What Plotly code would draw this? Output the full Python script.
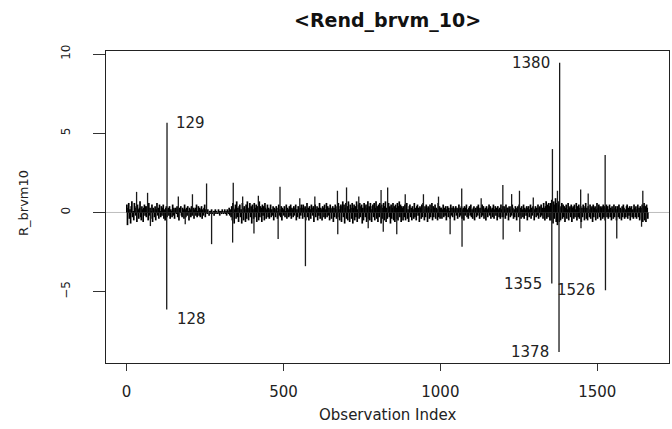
import plotly.graph_objects as go

# ---------------- data ----------------
# background returns, one value every 2nd observation, by region
seg_A = [.5,-.8,.3,.6,-.4,.2,-.7,.4,.7,-.3,.1,-.5,.6,.3,-.2,.4,-.6,.5,.2,-.4,.3,.7,-.3,-.5,.4,.2,-.6,.3,.5,-.2,.4]
seg_B = [-.3,.4,.2,-.5,.6,-.2,.3,-.4,.1,.5,-.6,.3,.2,-.3,.4,-.5,.2,.6,-.2,.3,
         -.4,.5,.1,-.3,.4,-.2,.3,.5,-.4,.2,-.5,.3,.4,-.3,.2]
seg_C = [.3,-.2,.4,-.4,.2,.1,-.3,.5,-.2,.3, -.4,.2,.3,-.1,.4,-.3,.2,-.5,.3,.1,
         .4,-.2,-.3,.3,.2,-.4,.5,.2,-.3,.3, -.2,.4,.1,-.5,.3,.2,-.3,.4,-.2,.2,
         .3,-.4,.2,.3,-.2,.5,-.3,.1,.4,-.2, .3,-.3,.2,.4,-.4,.2,-.2,.3,.5,-.3, .2]
seg_D = [.1,-.1,.2,0,-.2,.1,.1,-.1,.2,-.1, 0,.1,-.2,.1,.2,-.1,.1,0,-.1,.2,
         .1,-.2,.1,.1,-.1,.2,0,-.1,.1,.2, -.1,.1,-.2,.2,.1,-.1,.3,-.2,.2,-.3]
seg_E = [.4,-.5,.6,.3,-.7,.2,.5,-.4,.7,-.3, .3,-.6,.4,.5,-.3,.2,-.7,.6,.3,-.5,
         .4,.2,-.6,.5,-.4,.7,.3,-.5,.2,.6, -.3,.4,-.7,.5,.2,-.4,.6,-.3,.3,.5,
         -.6,.4,.2,-.5,.7,-.3,.4,.3,-.6,.5, -.2,.4,-.5,.6,.3,-.4,.2,.5,-.3]
seg_F = [.3,-.4,.2,.5,-.3,.2,-.2,.4,-.5,.3, .2,-.3,.4,.1,-.4,.3,.5,-.2,.2,-.3,
         .4,-.5,.3,.2,-.2,.4,-.3,.1,.5,-.4, .3,.2,-.3,.4,-.2,.5,-.4,.3,.2,-.3,
         .4,-.2,.3,.5,-.5,.2,-.3,.4,.2,-.4, .3,-.2,.5,.3]
seg_G = [-.4,.5,.3,-.3,.4,-.5,.2,.6,-.3,.3, -.5,.4,.2,-.4,.5,.3,-.2,.4,-.6,.3,
         .5,-.3,.2,.4,-.5,.3,-.2,.6,-.4,.3, .2,-.5,.4,.3,-.3,.5,-.4,.2,.6,-.3,
         .4,-.2,.3,-.5,.5,.2,-.4,.3,.4,-.6, .3,-.3,.5,.2,-.4,.4,-.3,.6,.2,-.5, .4]
seg_H = [.5,-.6,.4,.7,-.3,.5,-.7,.3,.6,-.4, .4,-.5,.7,.2,-.6,.5,.3,-.4,.6,-.7,
         .3,.5,-.5,.4,-.3,.7,-.6,.2,.5,-.4, .6,-.3,.4,.5,-.7,.3,-.5,.6,.4,-.3,
         .5,-.6,.3,.7,-.4,.4,-.5,.6,.2,-.6, .4,.5,-.3,.6,-.5,.3,.7,-.4,.4,-.6,
         .5,-.3,.6,.4,-.7,.5,-.4,.3,.6,-.5, .4,.7,-.6,.3,-.4,.5,.6,-.3,.4,-.7,
         .5,-.4,.3,.6,-.5,.4,-.6,.5,.3,-.4, .6,-.5,.4,.7,-.3,.5,-.6,.4,.3,-.5]
seg_I = [.4,-.3,.5,-.5,.3,.6,-.4,.2,-.6,.4, .5,-.3,.3,-.5,.4,.2,-.4,.6,-.3,.3,
         -.5,.4,.5,-.2,.3,-.6,.4,.3,-.4,.5, -.3,.6,.2,-.5,.4,-.3,.5,.3,-.6,.4,
         .3,-.4,.5,-.3,.2,.6,-.5,.4,-.3,.3, .5,-.4,.3,.2,-.5,.6,-.3,.4,-.4,.3]
seg_J = [.3,-.4,.2,.5,-.3,.3,-.2,.4,-.5,.2, .4,-.3,.3,.1,-.4,.5,-.2,.3,-.3,.4,
         .2,-.5,.3,.4,-.2,.3,-.4,.2,.5,-.3, .3,-.2,.4,-.4,.2,.3,-.5,.4,-.2,.3,
         .5,-.3,.2,-.4,.3,.4,-.2,.5,-.3,.2, -.4,.3,.4,-.5,.2,.3,-.3,.4,-.2,.5,
         .3,-.4,.2,.3,-.3,.5,-.2,.4,-.4,.2, .3,-.5,.4,.2,-.3,.3,.5,-.2,.4,-.4,
         .2,.3,-.3,.5,-.4,.2,.4,-.2,.3,-.5, .4,.2,-.3,.3,-.4,.5,.2,-.3,.4]
seg_K = [-.3,.4,.2,-.4,.5,-.2,.3,.3,-.5,.4, .2,-.3,.4,-.2,.5,.3,-.4,.2,-.3,.4,
         .3,-.5,.2,.4,-.3,.5,-.2,.3,-.4,.4, .2,-.3,.5,-.4,.3,.2,-.2,.4,-.5,.3,
         .4,-.3,.2,.5,-.4,.3,-.2,.4,.3,-.5, .2,.4,-.3,.3,-.2,.5,-.4,.3,.4,-.3,
         .5,-.2,.3,-.4,.6,.3,-.5,.4,.7,-.4, .5,-.3,.6,.4,-.5]
seg_L = [.6,-.5,.8,.4,-.7,.7,-.4,.5,.9,-.6,.6,-.8,.7,.5,-.6]
seg_M = [.4,-.5,.3,.6,-.4,.5,-.3,.4,-.6,.3, .5,-.4,.2,.6,-.5,.3,.4,-.3,.5,-.6,
         .3,.4,-.4,.5,-.3,.2,.6,-.5,.4,-.3, .5,-.4,.3,.4,-.6,.3,-.3,.5,.4,-.5,
         .3,.6,-.4,.3,-.5,.4,.2,-.3,.5,-.4, .3,.4,-.6,.5,-.3,.3,.4,-.5,.2,.6,
         -.4,.3,.5,-.3,.4,-.5,.3,.4,-.4,.5, -.3]
seg_N = [.4,-.5,.3,.5,-.3,.4,-.4,.2,.5,-.3, .3,-.5,.4,.2,-.4,.5,-.3,.3,.4,-.5,
         .2,.4,-.3,.5,-.4,.3,.2,-.5,.4,-.3, .5,.3,-.4,.2,-.3,.4,.5,-.4,.3,-.2,
         .4,-.5,.3,.4,-.3,.2,-.4,.5,.3,-.3, .4,-.4,.2,.5,-.3,.3,-.5,.4,.3,-.4,
         .5,-.6,.4,.6,-.5,.4,-.6,.5,.3,-.4]

# larger individual returns (observation index, value)
spike_idx = [32, 67, 76, 128, 129, 165, 187, 210, 255, 271, 338, 340, 370, 406, 420,
             483, 489, 552, 570, 600, 672, 673, 701, 740, 770, 811, 818, 832, 861,
             888, 946, 994, 1031, 1068, 1069, 1130, 1199, 1200, 1227, 1252, 1253,
             1296, 1355, 1357, 1373, 1378, 1380, 1447, 1448, 1471, 1525, 1526,
             1562, 1641, 1645]
spike_val = [1.30, 1.24, -0.86, -6.13, 5.66, 1.00, -0.75, 1.15, 1.83, -2.00, -1.90, 1.87,
             1.00, -1.33, 1.05, -1.68, 1.62, 0.90, -3.39, 1.00, 1.37, -1.37, 1.58,
             1.00, -1.00, 1.41, -1.22, 1.58, -1.37, 1.15, 1.15, 1.00, -1.37, 1.52,
             -2.17, 0.90, 1.73, -1.70, 1.16, 1.37, -1.22, 0.95, -4.49, 4.00, 1.37,
             -8.81, 9.45, 1.45, -1.00, 1.20, 3.62, -4.91, -1.64, -0.90, 1.37]

labelled_obs = [129, 128, 1380, 1378, 1355, 1526]
x_ticks = [0, 500, 1000, 1500]
y_ticks = [-5, 0, 5, 10]

# ---------------- build figure ----------------
base_vals = (seg_A + seg_B + seg_C + seg_D + seg_E + seg_F + seg_G + seg_H +
             seg_I + seg_J + seg_K + seg_L + seg_M + seg_N)
base_idx = [1 + 2 * k for k in range(len(base_vals))]
n_obs = 1662


def stems(xs, ys):
    sx, sy = [], []
    for a, b in zip(xs, ys):
        sx += [a, a, None]
        sy += [0, b, None]
    return sx, sy


fig = go.Figure()
bx, by = stems(base_idx, base_vals)
fig.add_trace(go.Scatter(x=bx, y=by, mode="lines",
                         line=dict(color="#000000", width=1.7), hoverinfo="skip",
                         showlegend=False))
sx, sy = stems(spike_idx, spike_val)
fig.add_trace(go.Scatter(x=sx, y=sy, mode="lines",
                         line=dict(color="#1a1a1a", width=1.3), hoverinfo="skip",
                         showlegend=False))

ext = 0.04 * (n_obs - 1)
fig.add_shape(type="line", xref="paper", yref="y", x0=0, x1=1, y0=0, y1=0,
              line=dict(color="#bebebe", width=1), layer="below")

lookup = dict(zip(spike_idx, spike_val))
offsets = {129: ("left", 7, 0), 128: ("left", 8, -9), 1380: ("right", -8, 0),
           1378: ("right", -8, 0), 1355: ("right", -8, 0), 1526: ("right", -8, 0)}
for obs in labelled_obs:
    anchor, dx, dy = offsets[obs]
    fig.add_annotation(x=obs, y=lookup[obs], text=str(obs), showarrow=False,
                       xanchor=anchor, yanchor="middle", xshift=dx, yshift=dy,
                       font=dict(family="DejaVu Sans", size=15, color="#222"))

fig.add_annotation(x=0.5, y=1, xref="paper", yref="paper", text="<b>&lt;Rend_brvm_10&gt;</b>",
                   showarrow=False, xanchor="center", yanchor="middle", yshift=31,
                   font=dict(family="DejaVu Sans", size=19, color="#111"))
fig.add_annotation(x=0.5, y=0, xref="paper", yref="paper", text="Observation Index",
                   showarrow=False, xanchor="center", yanchor="middle", yshift=-52,
                   font=dict(family="DejaVu Sans", size=15, color="#222"))
fig.add_annotation(x=0, y=0.5, xref="paper", yref="paper", text="R_brvm10",
                   showarrow=False, xanchor="center", yanchor="middle", xshift=-83,
                   yshift=4, textangle=-90,
                   font=dict(family="DejaVu Sans", size=13, color="#222"))

fig.update_layout(
    width=672, height=429,
    margin=dict(l=106, r=3, t=51, b=66, pad=0),
    paper_bgcolor="white", plot_bgcolor="white",
    hovermode=False,
    xaxis=dict(range=[1 - ext, n_obs + ext], tickvals=x_ticks, ticks="outside",
               ticklen=7, tickcolor="#333", showline=True, mirror=True,
               linecolor="#222", linewidth=1, showgrid=False, zeroline=False,
               ticklabelstandoff=8,
               tickfont=dict(family="DejaVu Sans", size=15, color="#222")),
    yaxis=dict(range=[-9.50, 10.19], tickvals=y_ticks, ticks="outside",
               ticklen=12, tickcolor="#333", showline=True, mirror=True,
               linecolor="#222", linewidth=1, showgrid=False, zeroline=False,
               tickangle=-90, ticklabelstandoff=18,
               tickfont=dict(family="DejaVu Sans", size=12, color="#222")),
)

fig.write_html("out.html", config={"displayModeBar": False},
               post_script="document.body.style.margin='0';document.body.style.padding='0';"
                           "document.body.style.overflow='hidden';")
